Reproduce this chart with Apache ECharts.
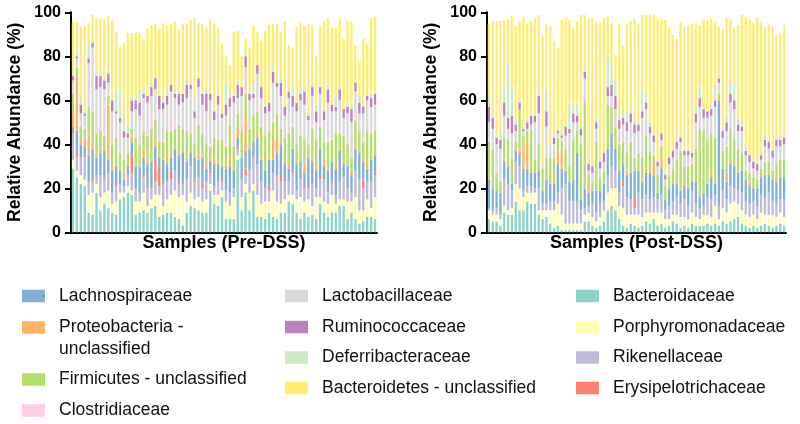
<!DOCTYPE html>
<html>
<head>
<meta charset="utf-8">
<script src="https://cdn.jsdelivr.net/npm/echarts@6/dist/echarts.min.js"></script>
<style>
  html, body { margin: 0; padding: 0; background: #fff; }
  #chart { width: 800px; height: 424px; }
</style>
</head>
<body>
<div id="chart"></div>
<script>
// stack order, bottom -> top
const families = ['Bacteroidaceae', 'Porphyromonadaceae', 'Rikenellaceae', 'Erysipelotrichaceae',
  'Lachnospiraceae', 'Proteobacteria - unclassified', 'Firmicutes - unclassified', 'Clostridiaceae',
  'Lactobacillaceae', 'Ruminococcaceae', 'Deferribacteraceae', 'Bacteroidetes - unclassified']
const colors = ['#8dd3c7', '#ffffb3', '#bebada', '#fb8072', '#80b1d3', '#fdb462', '#b3de69', '#fccde5',
  '#d9d9d9', '#bc80bd', '#ccebc5', '#ffed6f']

// ---- Pre-DSS (78 samples), relative abundance %
const preBacteroidaceae = [29,25,22,21,9,8,18,10,13,11,9,8,15,16,18,17,8,9,10,9,11,12,7,8,9,9,7,6,3,9,12,11,10,9,9,19,13,12,16,6,6,6,33,10,18,10,19,7,7,6,9,7,6,9,9,14,13,9,6,9,7,8,6,13,9,7,9,9,12,12,6,9,6,4,5,7,7,6]
const prePorphyromonadaceae = [4,3,4,3,8,10,4,6,5,8,4,6,3,2,3,2,6,5,8,3,4,5,10,4,6,8,12,10,14,5,6,4,6,5,6,3,4,5,3,8,6,10,2,6,4,8,3,10,6,8,5,12,8,4,6,3,4,6,10,5,8,4,10,3,5,6,8,4,3,3,8,5,10,6,5,8,4,10]
const preRikenellaceae = [12,6,8,10,6,5,4,10,6,8,5,7,4,3,5,8,6,4,7,8,5,6,4,10,8,7,9,6,5,10,12,8,9,6,8,5,4,6,4,5,6,4,3,8,4,10,12,14,10,6,5,8,12,10,8,6,10,4,8,6,5,10,4,8,10,5,6,4,8,10,6,4,12,14,10,8,12,10]
const preErysipelotrichaceae = [1,2,0,1,0,1,0,0,1,0,0,1,0,0,0,8,0,0,1,1,0,10,9,1,0,4,0,1,0,0,0,1,0,2,0,1,0,0,1,0,0,0,1,0,3,0,1,0,0,0,2,0,0,3,0,0,1,0,0,1,0,0,0,2,0,0,1,0,0,0,0,0,0,0,4,0,0,1]
const preLachnospiraceae = [2,10,6,4,12,14,8,10,12,6,10,8,6,3,4,6,10,12,8,10,12,6,4,10,8,6,10,12,14,8,6,10,8,12,6,4,10,8,6,10,12,8,4,10,8,10,6,12,10,8,12,6,10,14,8,6,10,12,8,6,14,10,8,12,6,10,8,12,14,6,10,8,10,12,8,6,10,8]
const preProteobacteria = [8,25,2,3,10,3,1,2,1,25,2,1,0,3,1,2,1,0,4,1,1,2,1,0,3,2,1,0,1,2,1,0,2,1,3,1,2,1,0,2,5,1,5,0,16,1,0,2,1,0,1,9,8,1,0,2,0,1,0,5,0,1,2,0,3,1,0,2,0,1,0,2,1,0,1,3,0,1]
const preFirmicutes = [7,4,6,5,12,14,10,8,6,4,10,12,8,6,5,4,12,10,8,12,14,10,6,8,12,10,8,14,10,12,8,6,14,10,8,6,10,10,12,8,14,10,6,12,10,8,12,10,14,16,12,8,10,6,12,14,10,8,12,10,6,14,12,10,8,12,10,14,8,12,10,6,12,10,8,14,12,10]
const preClostridiaceae = [4,1,2,1,0,1,2,0,3,1,0,1,2,0,1,0,3,1,0,1,5,2,0,1,0,2,4,1,0,1,2,0,1,3,0,1,0,1,0,2,0,6,1,0,2,1,0,3,1,0,1,2,0,1,0,4,1,0,2,0,1,3,0,1,0,2,1,0,1,0,2,0,3,0,1,0,2,0]
const preLactobacillaceae = [2,3,4,5,20,28,18,20,18,5,15,10,12,10,6,8,10,12,15,14,10,12,15,14,12,16,10,8,12,14,18,12,16,10,15,20,8,15,10,12,8,14,6,16,10,12,8,14,12,10,8,16,12,14,10,12,8,15,14,16,10,12,8,14,10,16,12,10,14,8,12,16,10,8,12,14,10,12]
const preRuminococcaceae = [2,1,4,1,2,2,6,5,4,4,5,1,2,3,2,5,4,6,2,3,4,5,6,3,4,3,2,5,4,6,2,3,4,5,8,3,4,4,2,5,4,3,6,4,5,3,2,4,5,3,4,5,2,6,4,3,5,4,3,6,2,4,5,3,4,6,3,2,5,4,3,6,4,5,3,2,4,5]
const preDeferribacteraceae = [0,2,3,1,8,1,3,0,1,2,0,10,12,8,4,2,1,6,3,0,2,1,0,1,3,0,2,1,0,3,1,6,0,1,2,0,1,2,0,10,3,1,2,0,3,1,5,0,2,1,0,3,1,2,0,1,4,0,2,1,0,1,3,0,1,2,0,5,1,0,2,1,0,3,1,0,2,1]
// bar heights (top of the yellow segment)
const preTotals = [95.5,95.8,93.5,93.8,95.3,98.8,97,97.3,96.8,98.5,96.2,91,84.4,86,90.5,90.5,90.8,90.5,87.7,92.7,94.2,94.7,92.3,95,94.2,95,95.8,92,95,95,96.5,97.3,95,94.7,92.7,96.5,95,92.7,86,80,76,91,91.5,80,88,84,94,91,87,91.5,94.5,94.5,95,91,96,85,84,93.5,95.5,94,95,94.5,80,94,95.5,97.5,93,93,97,88,96,95.5,85,78,88,86,97.5,98]

// ---- Post-DSS (78 samples)
const postBacteroidaceae = [6,5,5,3,9,8,8,14,10,10,14,13,13,8,6,7,4,2,3,1,1,1,1,1,1,5,5,3,2,3,5,10,12,10,6,3,2,4,3,2,3,5,4,6,3,4,2,3,5,4,2,3,2,4,3,3,3,4,3,4,3,5,4,5,6,7,4,3,2,3,2,3,4,3,2,3,4,3]
const postPorphyromonadaceae = [4,3,3,3,3,2,3,8,10,6,4,5,5,2,4,3,6,8,10,7,3,3,3,3,3,3,4,4,3,4,5,8,8,10,6,8,6,4,5,6,4,4,5,3,6,5,4,3,3,4,5,4,4,5,4,3,5,4,4,8,3,6,5,8,8,6,6,5,5,5,4,6,4,5,6,4,5,4]
const postRikenellaceae = [1,2,3,2,12,12,8,10,10,3,3,3,2,10,3,3,4,4,5,12,18,10,10,10,6,3,3,6,4,6,4,8,10,8,6,10,8,7,3,10,8,8,6,7,6,8,4,6,6,8,6,8,6,10,6,5,4,8,8,5,6,8,6,8,6,6,8,6,6,6,6,8,8,10,6,6,6,8]
const postErysipelotrichaceae = [0,0,0,0,0,0,0,0,0,0,0,0,0,0,0,0,0,0,0,0,0,0,0,0,0,0,0,0,0,0,0,0,0,0,0,2,0,0,5,0,0,0,0,0,0,0,0,0,0,0,0,0,0,0,0,0,0,0,0,0,0,0,0,0,0,0,0,0,0,0,0,0,0,0,0,0,0,0]
const postLachnospiraceae = [13,10,8,10,8,8,3,5,6,10,8,6,7,8,6,11,8,8,13,9,6,9,10,22,5,9,6,6,10,6,8,12,15,10,10,8,10,12,12,10,8,10,12,10,3,12,5,8,8,6,6,6,8,4,10,5,6,6,10,5,48,10,8,10,10,8,10,10,8,6,8,8,10,8,10,10,10,10]
const postProteobacteria = [1,0,0,0,1,0,0,0,2,10,13,0,0,0,0,0,0,2,6,8,0,0,0,0,0,0,4,0,0,0,0,0,0,0,0,0,2,0,0,0,1,2,0,6,0,5,0,0,1,1,0,1,0,0,0,1,0,0,2,1,1,0,4,2,0,1,0,0,2,0,0,2,0,0,0,2,0,0]
const postFirmicutes = [16,18,8,5,10,12,12,4,18,5,4,20,6,12,10,10,12,10,6,4,10,7,18,10,25,40,4,4,22,6,6,20,12,10,12,10,8,14,6,8,10,15,10,3,8,5,6,6,6,10,18,8,10,8,15,30,28,20,18,20,2,8,12,14,12,10,8,4,4,5,4,2,6,6,4,6,8,8]
const postClostridiaceae = [2,1,3,1,0,0,1,0,0,0,0,0,0,0,0,0,0,0,0,0,0,0,0,0,0,0,0,0,0,0,0,0,0,0,1,0,0,1,1,0,0,0,0,1,0,1,0,0,0,0,1,0,1,0,0,0,0,0,0,0,0,0,1,0,0,0,0,1,1,0,0,0,1,0,0,0,0,1]
const postLactobacillaceae = [7,8,10,14,10,5,10,5,0,2,1,2,17,14,1,14,4,6,2,2,6,15,8,4,4,10,2,4,6,4,4,4,5,8,6,8,10,8,10,10,18,12,8,5,4,2,3,5,5,5,3,5,4,3,12,10,6,10,8,14,5,6,6,12,14,8,10,6,4,4,4,4,6,6,6,8,6,6]
const postRuminococcaceae = [7,5,3,4,6,5,8,3,3,1,3,4,3,8,0,7,0,3,1,1,4,2,4,3,3,3,3,3,3,3,4,4,5,6,4,3,4,4,4,3,3,3,3,3,2,3,2,3,3,3,2,2,2,2,4,4,4,3,3,3,2,3,4,4,4,3,2,2,3,3,3,2,3,3,3,3,3,3]
const postDeferribacteraceae = [6,2,1,3,8,25,13,2,1,1,1,1,1,3,2,9,2,1,1,1,1,12,3,6,1,1,1,1,2,1,1,14,10,8,2,4,5,3,3,1,10,4,2,1,1,0,1,1,1,1,1,1,1,1,3,6,0,0,2,7,0,2,3,5,8,3,3,2,1,1,1,1,2,1,1,1,1,2]
const postTotals = [94.7,96,96,96,96.5,97,98.8,94,96,98,94.7,96,97.5,98.8,89.7,95,93.6,86.7,83.6,96.8,97.5,96.5,92.7,95.7,98.8,98.8,97.3,97.3,95.7,95,97.3,98,95,80.6,95,85,95,96,97,95,98.8,98.8,98.8,99,97.5,97,96.5,93.5,89.7,88,95.5,93.5,94,94.7,95.3,94.2,96.5,96.5,97.3,95.7,93.5,92.3,97.5,96.8,93,94.2,98.8,97.7,96.8,95,97.5,95.5,93.5,94.5,93.5,89.7,90.5,94.2]

const preParts = [preBacteroidaceae, prePorphyromonadaceae, preRikenellaceae, preErysipelotrichaceae,
  preLachnospiraceae, preProteobacteria, preFirmicutes, preClostridiaceae,
  preLactobacillaceae, preRuminococcaceae, preDeferribacteraceae]
const postParts = [postBacteroidaceae, postPorphyromonadaceae, postRikenellaceae, postErysipelotrichaceae,
  postLachnospiraceae, postProteobacteria, postFirmicutes, postClostridiaceae,
  postLactobacillaceae, postRuminococcaceae, postDeferribacteraceae]

// Bacteroidetes - unclassified fills each bar up to its read height
function topSegment(parts, totals) {
  return totals.map((t, i) => {
    let s = 0
    parts.forEach(p => { s += p[i] })
    return Math.max(0, +(t - s).toFixed(1))
  })
}
const preValues = preParts.concat([topSegment(preParts, preTotals)])
const postValues = postParts.concat([topSegment(postParts, postTotals)])
const preSamples = preTotals.map((v, i) => 'Pre' + (i + 1))
const postSamples = postTotals.map((v, i) => 'Post' + (i + 1))

const font = "'Liberation Sans', Arial, sans-serif"

const makeSeries = (values, idx) => families.map((name, k) => ({
  name: name,
  type: 'bar',
  stack: 'panel' + idx,
  xAxisIndex: idx,
  yAxisIndex: idx,
  data: values[k],
  barCategoryGap: '40%',
  itemStyle: { color: colors[k] },
  emphasis: { disabled: true }
}))

const xAxisFor = (idx, data, title) => ({
  type: 'category',
  gridIndex: idx,
  data: data,
  axisLine: { lineStyle: { color: '#000', width: 2 } },
  axisTick: { show: false },
  axisLabel: { show: false },
  name: title,
  nameLocation: 'middle',
  nameGap: 1,
  nameTextStyle: { fontSize: 18, fontWeight: 'bold', color: '#000', fontFamily: font, lineHeight: 20 }
})

const yAxisFor = (idx) => ({
  type: 'value',
  gridIndex: idx,
  min: 0,
  max: 100,
  interval: 20,
  splitLine: { show: false },
  axisLine: { show: true, lineStyle: { color: '#000', width: 2 } },
  axisTick: { show: true, length: 6, lineStyle: { color: '#000', width: 2 } },
  axisLabel: { fontSize: 16, fontWeight: 'bold', color: '#000', fontFamily: font, margin: 10 },
  name: 'Relative Abundance (%)',
  nameLocation: 'middle',
  nameGap: 46,
  nameTextStyle: { fontSize: 17.5, fontWeight: 'bold', color: '#000', fontFamily: font, lineHeight: 20 }
})

// legend: three columns, one component per entry
const legendCols = [
  ['Lachnospiraceae', 'Proteobacteria - unclassified', 'Firmicutes - unclassified', 'Clostridiaceae'],
  ['Lactobacillaceae', 'Ruminococcaceae', 'Deferribacteraceae', 'Bacteroidetes - unclassified'],
  ['Bacteroidaceae', 'Porphyromonadaceae', 'Rikenellaceae', 'Erysipelotrichaceae']
]
const colX = [22, 285, 576]
const rowY = [[296, 327.5, 379.5, 410.5], [296, 327, 357.5, 388], [296, 327, 357.5, 388]]
const legends = []
legendCols.forEach((col, c) => {
  col.forEach((name, r) => {
    // the wrapped entry gets an empty first line so its first text line sits level with the swatch
    const twoLine = name === 'Proteobacteria - unclassified'
    const lh = twoLine ? 21.5 : 20
    legends.push({
      data: [name],
      left: colX[c],
      top: rowY[c][r] - (twoLine ? lh * 1.5 : lh / 2),
      padding: 0,
      icon: 'rect',
      itemWidth: 23,
      itemHeight: 12.5,
      formatter: n => twoLine ? ' \nProteobacteria -\nunclassified' : n,
      textStyle: { fontSize: 17.5, lineHeight: lh, color: '#111', fontFamily: font, padding: [0, 0, 0, 9] }
    })
  })
})

const chart = echarts.init(document.getElementById('chart'))
chart.setOption({
  animation: false,
  backgroundColor: '#fff',
  grid: [
    { left: 71, top: 12.3, width: 306, height: 220, outerBoundsMode: 'none' },
    { left: 487, top: 12.3, width: 299, height: 220, outerBoundsMode: 'none' }
  ],
  xAxis: [xAxisFor(0, preSamples, 'Samples (Pre-DSS)'), xAxisFor(1, postSamples, 'Samples (Post-DSS)')],
  yAxis: [yAxisFor(0), yAxisFor(1)],
  legend: legends,
  series: makeSeries(preValues, 0).concat(makeSeries(postValues, 1))
})
</script>
</body>
</html>
